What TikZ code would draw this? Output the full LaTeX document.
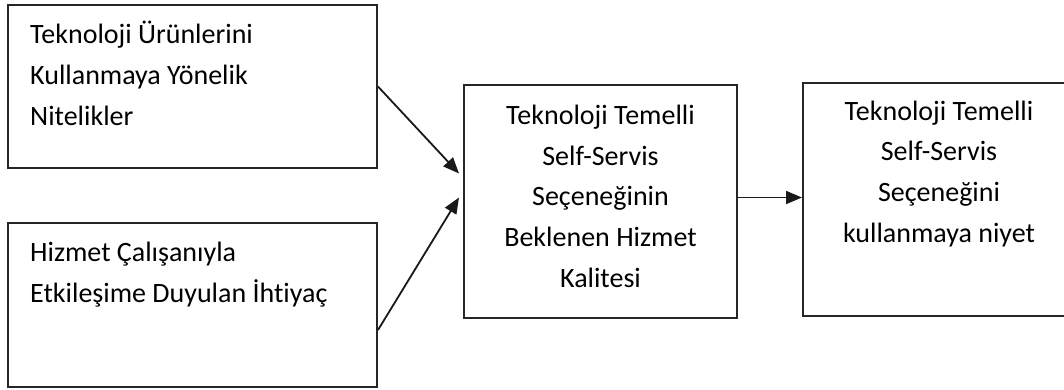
\documentclass[tikz,border=0pt]{standalone}
\usepackage{fontspec}
\setmainfont{Carlito}[Ligatures={NoCommon}]
\usetikzlibrary{arrows.meta,calc}
\begin{document}
\begin{tikzpicture}[x=1pt,y=-1pt,
  box/.style={draw=black!85,line width=2pt,rectangle,inner sep=0pt},
  txt/.style={inner sep=0pt,font=\fontsize{28}{40.6}\selectfont,text=black},
  conn/.style={draw=black!90,line width=1.8pt,-{Triangle[length=16pt,width=13pt]}}]
  \useasboundingbox (0,0) rectangle (1064,389);
  \fill[white] (0,0) rectangle (1064,389);
  \clip (0,0) rectangle (1064,389);

  % boxes
  \node[box,minimum width=369pt,minimum height=163pt] (b1) at (192.5,86.5) {};
  \node[box,minimum width=369pt,minimum height=164pt] (b2) at (192.5,305) {};
  \node[box,minimum width=273pt,minimum height=233pt] (b3) at (600.5,201.5) {};
  \node[box,minimum width=272pt,minimum height=233pt] (b4) at (939,199.5) {};

  % box texts (anchored on the baseline of the last line)
  \node[txt,anchor=base west,align=left] (t1) at (30,125)
    {Teknoloji Ürünlerini\\Kullanmaya Yönelik\\Nitelikler};
  \node[txt,anchor=base west,align=left] (t2) at (30,302)
    {Hizmet Çalışanıyla\\Etkileşime Duyulan İhtiyaç};
  \node[txt,anchor=base,align=center] (t3) at (600.5,287)
    {Teknoloji Temelli\\Self-Servis\\Seçeneğinin\\Beklenen Hizmet\\Kalitesi};
  \node[txt,anchor=base,align=center] (t4) at (939,242)
    {Teknoloji Temelli\\Self-Servis\\Seçeneğini\\kullanmaya niyet};

  % connectors
  \draw[conn] (b1.east) -- ($(b3.west)+(-4,-28)$);
  \draw[conn] ($(b2.east)+(0,25)$) -- ($(b3.west)+(-4,-4)$);
  \draw[conn] ($(b3.east)+(0,-4)$) -- ($(b4.west)+(0,-2)$);
\end{tikzpicture}
\end{document}
